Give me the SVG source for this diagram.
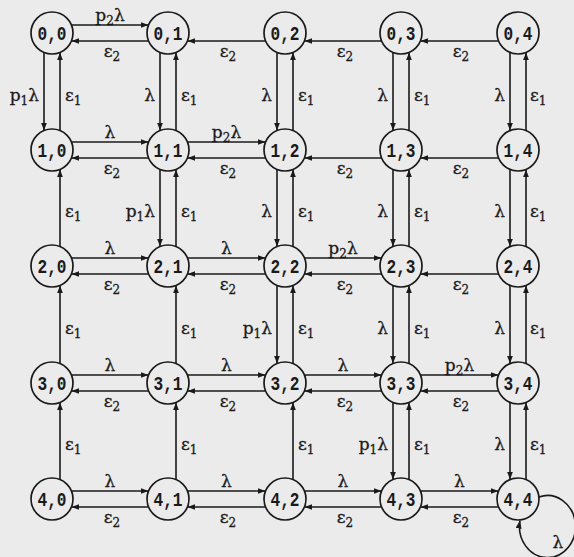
<svg xmlns="http://www.w3.org/2000/svg" width="574" height="557" viewBox="0 0 574 557">
<style>
.bg{fill:#ebebeb}
.nd circle{fill:#ebebeb;stroke:#1a1a1a;stroke-width:1.7}
.nd text{font-family:"Liberation Mono",monospace;font-size:20px;font-weight:bold;fill:#1a1a1a;text-anchor:middle}
#edges path{stroke:#1a1a1a;stroke-width:1.6;fill:none;marker-end:url(#a)}
.lb text{font-family:"DejaVu Serif",serif;font-size:17px;fill:#1a1a1a;stroke:#1a1a1a;stroke-width:0.3}
.m{text-anchor:middle}
.e{text-anchor:end}
.s{font-size:12px}
</style>
<defs>
<marker id="a" markerUnits="userSpaceOnUse" markerWidth="8" markerHeight="6" refX="8" refY="3" orient="auto"><path d="M0,0 L8,3 L0,6 z" fill="#1a1a1a"/></marker>
</defs>
<rect class="bg" x="0" y="0" width="574" height="557"/>
<g id="edges">
<path d="M71.4,25 H148.6"/><path d="M148.6,41 H71.4"/>
<path d="M265.6,41 H187.4"/><path d="M381.6,41 H304.4"/><path d="M498.6,41 H420.4"/>
<path d="M71.4,142 H148.6"/><path d="M148.6,158 H71.4"/>
<path d="M187.4,142 H265.6"/><path d="M265.6,158 H187.4"/>
<path d="M381.6,158 H304.4"/><path d="M498.6,158 H420.4"/>
<path d="M71.4,258 H148.6"/><path d="M148.6,274 H71.4"/>
<path d="M187.4,258 H265.6"/><path d="M265.6,274 H187.4"/>
<path d="M304.4,258 H381.6"/><path d="M381.6,274 H304.4"/>
<path d="M498.6,274 H420.4"/>
<path d="M71.4,375 H148.6"/><path d="M148.6,391 H71.4"/>
<path d="M187.4,375 H265.6"/><path d="M265.6,391 H187.4"/>
<path d="M304.4,375 H381.6"/><path d="M381.6,391 H304.4"/>
<path d="M420.4,375 H498.6"/><path d="M498.6,391 H420.4"/>
<path d="M71.4,491 H148.6"/><path d="M148.6,507 H71.4"/>
<path d="M187.4,491 H265.6"/><path d="M265.6,507 H187.4"/>
<path d="M304.4,491 H381.6"/><path d="M381.6,507 H304.4"/>
<path d="M420.4,491 H498.6"/><path d="M498.6,507 H420.4"/>
<path d="M44,52.4 V130.6"/><path d="M60,130.6 V52.4"/>
<path d="M60,246.6 V169.4"/><path d="M60,363.6 V285.4"/><path d="M60,479.6 V402.4"/>
<path d="M160,52.4 V130.6"/><path d="M176,130.6 V52.4"/>
<path d="M160,169.4 V246.6"/><path d="M176,246.6 V169.4"/>
<path d="M176,363.6 V285.4"/><path d="M176,479.6 V402.4"/>
<path d="M277,52.4 V130.6"/><path d="M293,130.6 V52.4"/>
<path d="M277,169.4 V246.6"/><path d="M293,246.6 V169.4"/>
<path d="M277,285.4 V363.6"/><path d="M293,363.6 V285.4"/>
<path d="M293,479.6 V402.4"/>
<path d="M393,52.4 V130.6"/><path d="M409,130.6 V52.4"/>
<path d="M393,169.4 V246.6"/><path d="M409,246.6 V169.4"/>
<path d="M393,285.4 V363.6"/><path d="M409,363.6 V285.4"/>
<path d="M393,402.4 V479.6"/><path d="M409,479.6 V402.4"/>
<path d="M510,52.4 V130.6"/><path d="M526,130.6 V52.4"/>
<path d="M510,169.4 V246.6"/><path d="M526,246.6 V169.4"/>
<path d="M510,285.4 V363.6"/><path d="M526,363.6 V285.4"/>
<path d="M510,402.4 V479.6"/><path d="M526,479.6 V402.4"/>
<path d="M539,497 A28 31 0 1 1 520,520.5"/>
</g>
<g class="lb">
<text class="m" x="110" y="21">p<tspan class="s" dy="4">2</tspan><tspan dy="-4">λ</tspan></text>
<text class="m" x="110" y="138">λ</text>
<text class="m" x="226.5" y="138">p<tspan class="s" dy="4">2</tspan><tspan dy="-4">λ</tspan></text>
<text class="m" x="110" y="254">λ</text>
<text class="m" x="226.5" y="254">λ</text>
<text class="m" x="343" y="254">p<tspan class="s" dy="4">2</tspan><tspan dy="-4">λ</tspan></text>
<text class="m" x="110" y="371">λ</text>
<text class="m" x="226.5" y="371">λ</text>
<text class="m" x="343" y="371">λ</text>
<text class="m" x="459.5" y="371">p<tspan class="s" dy="4">2</tspan><tspan dy="-4">λ</tspan></text>
<text class="m" x="110" y="487">λ</text>
<text class="m" x="226.5" y="487">λ</text>
<text class="m" x="343" y="487">λ</text>
<text class="m" x="459.5" y="487">λ</text>
<text class="m" x="112" y="57">ε<tspan class="s" dy="4">2</tspan></text>
<text class="m" x="228" y="57">ε<tspan class="s" dy="4">2</tspan></text>
<text class="m" x="345" y="57">ε<tspan class="s" dy="4">2</tspan></text>
<text class="m" x="461" y="57">ε<tspan class="s" dy="4">2</tspan></text>
<text class="m" x="112" y="174">ε<tspan class="s" dy="4">2</tspan></text>
<text class="m" x="228" y="174">ε<tspan class="s" dy="4">2</tspan></text>
<text class="m" x="345" y="174">ε<tspan class="s" dy="4">2</tspan></text>
<text class="m" x="461" y="174">ε<tspan class="s" dy="4">2</tspan></text>
<text class="m" x="112" y="290">ε<tspan class="s" dy="4">2</tspan></text>
<text class="m" x="228" y="290">ε<tspan class="s" dy="4">2</tspan></text>
<text class="m" x="345" y="290">ε<tspan class="s" dy="4">2</tspan></text>
<text class="m" x="461" y="290">ε<tspan class="s" dy="4">2</tspan></text>
<text class="m" x="112" y="407">ε<tspan class="s" dy="4">2</tspan></text>
<text class="m" x="228" y="407">ε<tspan class="s" dy="4">2</tspan></text>
<text class="m" x="345" y="407">ε<tspan class="s" dy="4">2</tspan></text>
<text class="m" x="461" y="407">ε<tspan class="s" dy="4">2</tspan></text>
<text class="m" x="112" y="523">ε<tspan class="s" dy="4">2</tspan></text>
<text class="m" x="228" y="523">ε<tspan class="s" dy="4">2</tspan></text>
<text class="m" x="345" y="523">ε<tspan class="s" dy="4">2</tspan></text>
<text class="m" x="461" y="523">ε<tspan class="s" dy="4">2</tspan></text>
<text class="e" x="39" y="100.5">p<tspan class="s" dy="4">1</tspan><tspan dy="-4">λ</tspan></text>
<text class="e" x="155" y="100.5">λ</text>
<text class="e" x="155" y="217">p<tspan class="s" dy="4">1</tspan><tspan dy="-4">λ</tspan></text>
<text class="e" x="272" y="100.5">λ</text>
<text class="e" x="272" y="217">λ</text>
<text class="e" x="272" y="333.5">p<tspan class="s" dy="4">1</tspan><tspan dy="-4">λ</tspan></text>
<text class="e" x="388" y="100.5">λ</text>
<text class="e" x="388" y="217">λ</text>
<text class="e" x="388" y="333.5">λ</text>
<text class="e" x="388" y="450">p<tspan class="s" dy="4">1</tspan><tspan dy="-4">λ</tspan></text>
<text class="e" x="505" y="100.5">λ</text>
<text class="e" x="505" y="217">λ</text>
<text class="e" x="505" y="333.5">λ</text>
<text class="e" x="505" y="450">λ</text>
<text x="65" y="100.5">ε<tspan class="s" dy="4">1</tspan></text>
<text x="65" y="217">ε<tspan class="s" dy="4">1</tspan></text>
<text x="65" y="333.5">ε<tspan class="s" dy="4">1</tspan></text>
<text x="65" y="450">ε<tspan class="s" dy="4">1</tspan></text>
<text x="181" y="100.5">ε<tspan class="s" dy="4">1</tspan></text>
<text x="181" y="217">ε<tspan class="s" dy="4">1</tspan></text>
<text x="181" y="333.5">ε<tspan class="s" dy="4">1</tspan></text>
<text x="181" y="450">ε<tspan class="s" dy="4">1</tspan></text>
<text x="298" y="100.5">ε<tspan class="s" dy="4">1</tspan></text>
<text x="298" y="217">ε<tspan class="s" dy="4">1</tspan></text>
<text x="298" y="333.5">ε<tspan class="s" dy="4">1</tspan></text>
<text x="298" y="450">ε<tspan class="s" dy="4">1</tspan></text>
<text x="414" y="100.5">ε<tspan class="s" dy="4">1</tspan></text>
<text x="414" y="217">ε<tspan class="s" dy="4">1</tspan></text>
<text x="414" y="333.5">ε<tspan class="s" dy="4">1</tspan></text>
<text x="414" y="450">ε<tspan class="s" dy="4">1</tspan></text>
<text x="530" y="100.5">ε<tspan class="s" dy="4">1</tspan></text>
<text x="530" y="217">ε<tspan class="s" dy="4">1</tspan></text>
<text x="530" y="333.5">ε<tspan class="s" dy="4">1</tspan></text>
<text x="530" y="450">ε<tspan class="s" dy="4">1</tspan></text>
<text class="m" x="558" y="548">λ</text>
</g>
<g id="n00" class="nd"><circle cx="52" cy="33" r="21"/><text x="52" y="40" textLength="29" lengthAdjust="spacingAndGlyphs">0,0</text></g>
<g id="n01" class="nd"><circle cx="168" cy="33" r="21"/><text x="168" y="40" textLength="29" lengthAdjust="spacingAndGlyphs">0,1</text></g>
<g id="n02" class="nd"><circle cx="285" cy="33" r="21"/><text x="285" y="40" textLength="29" lengthAdjust="spacingAndGlyphs">0,2</text></g>
<g id="n03" class="nd"><circle cx="401" cy="33" r="21"/><text x="401" y="40" textLength="29" lengthAdjust="spacingAndGlyphs">0,3</text></g>
<g id="n04" class="nd"><circle cx="518" cy="33" r="21"/><text x="518" y="40" textLength="29" lengthAdjust="spacingAndGlyphs">0,4</text></g>
<g id="n10" class="nd"><circle cx="52" cy="150" r="21"/><text x="52" y="157" textLength="29" lengthAdjust="spacingAndGlyphs">1,0</text></g>
<g id="n11" class="nd"><circle cx="168" cy="150" r="21"/><text x="168" y="157" textLength="29" lengthAdjust="spacingAndGlyphs">1,1</text></g>
<g id="n12" class="nd"><circle cx="285" cy="150" r="21"/><text x="285" y="157" textLength="29" lengthAdjust="spacingAndGlyphs">1,2</text></g>
<g id="n13" class="nd"><circle cx="401" cy="150" r="21"/><text x="401" y="157" textLength="29" lengthAdjust="spacingAndGlyphs">1,3</text></g>
<g id="n14" class="nd"><circle cx="518" cy="150" r="21"/><text x="518" y="157" textLength="29" lengthAdjust="spacingAndGlyphs">1,4</text></g>
<g id="n20" class="nd"><circle cx="52" cy="266" r="21"/><text x="52" y="273" textLength="29" lengthAdjust="spacingAndGlyphs">2,0</text></g>
<g id="n21" class="nd"><circle cx="168" cy="266" r="21"/><text x="168" y="273" textLength="29" lengthAdjust="spacingAndGlyphs">2,1</text></g>
<g id="n22" class="nd"><circle cx="285" cy="266" r="21"/><text x="285" y="273" textLength="29" lengthAdjust="spacingAndGlyphs">2,2</text></g>
<g id="n23" class="nd"><circle cx="401" cy="266" r="21"/><text x="401" y="273" textLength="29" lengthAdjust="spacingAndGlyphs">2,3</text></g>
<g id="n24" class="nd"><circle cx="518" cy="266" r="21"/><text x="518" y="273" textLength="29" lengthAdjust="spacingAndGlyphs">2,4</text></g>
<g id="n30" class="nd"><circle cx="52" cy="383" r="21"/><text x="52" y="390" textLength="29" lengthAdjust="spacingAndGlyphs">3,0</text></g>
<g id="n31" class="nd"><circle cx="168" cy="383" r="21"/><text x="168" y="390" textLength="29" lengthAdjust="spacingAndGlyphs">3,1</text></g>
<g id="n32" class="nd"><circle cx="285" cy="383" r="21"/><text x="285" y="390" textLength="29" lengthAdjust="spacingAndGlyphs">3,2</text></g>
<g id="n33" class="nd"><circle cx="401" cy="383" r="21"/><text x="401" y="390" textLength="29" lengthAdjust="spacingAndGlyphs">3,3</text></g>
<g id="n34" class="nd"><circle cx="518" cy="383" r="21"/><text x="518" y="390" textLength="29" lengthAdjust="spacingAndGlyphs">3,4</text></g>
<g id="n40" class="nd"><circle cx="52" cy="499" r="21"/><text x="52" y="506" textLength="29" lengthAdjust="spacingAndGlyphs">4,0</text></g>
<g id="n41" class="nd"><circle cx="168" cy="499" r="21"/><text x="168" y="506" textLength="29" lengthAdjust="spacingAndGlyphs">4,1</text></g>
<g id="n42" class="nd"><circle cx="285" cy="499" r="21"/><text x="285" y="506" textLength="29" lengthAdjust="spacingAndGlyphs">4,2</text></g>
<g id="n43" class="nd"><circle cx="401" cy="499" r="21"/><text x="401" y="506" textLength="29" lengthAdjust="spacingAndGlyphs">4,3</text></g>
<g id="n44" class="nd"><circle cx="518" cy="499" r="21"/><text x="518" y="506" textLength="29" lengthAdjust="spacingAndGlyphs">4,4</text></g>
</svg>
